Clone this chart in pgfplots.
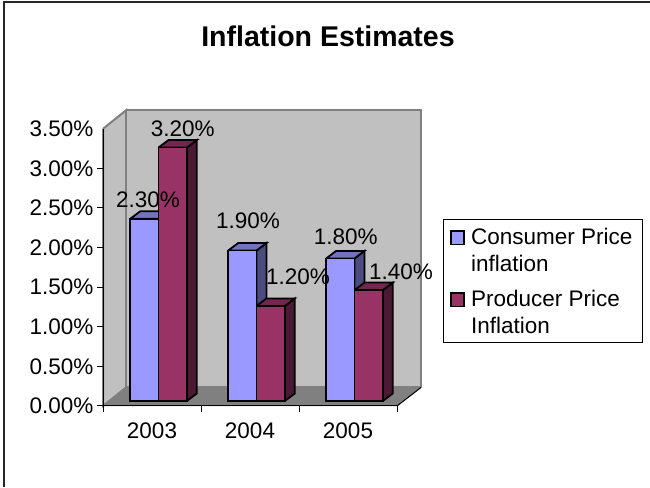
\documentclass[border=0pt]{standalone}
\usepackage{pgfplots}
\pgfplotsset{compat=1.18}
\usepackage{fontspec}
\setmainfont{Liberation Sans}
\definecolor{wall}{HTML}{C0C0C0}
\definecolor{floorc}{HTML}{808080}
\definecolor{cpi}{HTML}{9999FF}
\definecolor{cpitop}{HTML}{7373BF}
\definecolor{cpiside}{HTML}{4C4C80}
\definecolor{ppi}{HTML}{993366}
\definecolor{ppitop}{HTML}{732650}
\definecolor{ppiside}{HTML}{4C1933}
\begin{document}
\begin{tikzpicture}[x=1pt,y=1pt]
\path[use as bounding box] (0,0) rectangle (650,487);
\draw[line width=2pt,color=black!85] (4,0) -- (4,485) -- (650,485);
\node[anchor=base,font=\fontsize{28.5}{30}\selectfont\bfseries] at (328,440.5) {Inflation Estimates};
% axis 1: walls, floor and the scale
\begin{axis}[
  at={(103pt,81pt)},anchor=south west,
  scale only axis,width=294pt,height=277.2pt,
  xmin=-0.5,xmax=2.5,ymin=0,ymax=3.5,
  clip=false,
  axis x line*=bottom,axis y line*=left,
  axis line style={line width=1pt,-},
  tick align=outside,
  xtick={0,1,2},xticklabels={2003,2004,2005},
  minor xtick={-0.5,0.5,1.5,2.5},
  major x tick style={draw=none},
  minor x tick style={black,line width=1pt},
  minor tick length=6pt,
  ytick={0,0.5,1,1.5,2,2.5,3},
  extra y ticks={3.5},
  extra y tick labels={3.50\%},
  extra y tick style={major y tick style={draw=none}},
  yticklabels={0.00\%,0.50\%,1.00\%,1.50\%,2.00\%,2.50\%,3.00\%},
  y tick style={black,line width=1pt},
  major tick length=6pt,
  ticklabel style={font=\fontsize{22.5}{24}\selectfont,inner sep=0pt},
  yticklabel style={xshift=-3.5pt},
  xticklabel style={yshift=-11pt},
  axis on top,
]
\addplot[fill=wall,draw=floorc,line width=2pt,forget plot] coordinates {(-0.5,3.5) (-0.265,3.734) (-0.265,0.234) (-0.5,0) (-0.5,3.5)};
\addplot[fill=wall,draw=floorc,line width=2pt,forget plot] coordinates {(-0.265,3.734) (2.745,3.734) (2.745,0.234) (-0.265,0.234) (-0.265,3.734)};
\addplot[fill=floorc,draw=floorc,line width=0.5pt,forget plot] coordinates {(-0.5,0) (2.5,0) (2.745,0.234) (-0.265,0.234) (-0.5,0)};
\addplot[draw=black,line width=1pt,forget plot] coordinates {(2.5,0) (2.745,0.234)};
\end{axis}
% axis 2: the bars, on the plane set back from the front of the floor
\begin{axis}[
  at={(109.5pt,86pt)},anchor=south west,
  scale only axis,width=294pt,height=277.2pt,
  xmin=-0.5,xmax=2.5,ymin=0,ymax=3.5,
  clip=false,
  hide axis,
  legend image code/.code={\draw[#1,line width=1.8pt] (0pt,0pt) rectangle (13.5pt,13.5pt);\path (18.5pt,0pt);},
  legend style={at={(1.1354,0.656)},anchor=north west,draw=black,line width=0.8pt,
    inner xsep=6pt,inner ysep=0pt,row sep=6pt,
    font=\fontsize{22.5}{27}\selectfont,
    nodes={inner sep=1pt,text depth=},
    cells={anchor=base west}},
  every axis plot/.append style={line width=1.8pt,draw=black},
]
% Consumer Price inflation: side faces and tops
\addplot[fill=cpiside,forget plot] coordinates {(0,0) (0.102,0.095) (0.102,2.395) (0,2.3) (0,0)};
\addplot[fill=cpitop,forget plot] coordinates {(-0.289,2.3) (-0.187,2.395) (0.102,2.395) (0,2.3) (-0.289,2.3)};
\addplot[fill=cpiside,forget plot] coordinates {(1,0) (1.102,0.095) (1.102,1.995) (1,1.9) (1,0)};
\addplot[fill=cpitop,forget plot] coordinates {(0.711,1.9) (0.813,1.995) (1.102,1.995) (1,1.9) (0.711,1.9)};
\addplot[fill=cpiside,forget plot] coordinates {(2,0) (2.102,0.095) (2.102,1.895) (2,1.8) (2,0)};
\addplot[fill=cpitop,forget plot] coordinates {(1.711,1.8) (1.813,1.895) (2.102,1.895) (2,1.8) (1.711,1.8)};
% Consumer Price inflation: front faces
\addplot[ybar,bar width=28.3pt,bar shift=-14.15pt,fill=cpi] coordinates {(0,2.3) (1,1.9) (2,1.8)};
\addlegendentry{\begin{tabular}[t]{@{}l@{\hspace{3pt}}}\rule{0pt}{24pt}Consumer Price\\inflation\end{tabular}}
% Producer Price Inflation: side faces and tops
\addplot[fill=ppiside,forget plot] coordinates {(0.289,0) (0.391,0.095) (0.391,3.295) (0.289,3.2) (0.289,0)};
\addplot[fill=ppitop,forget plot] coordinates {(0,3.2) (0.102,3.295) (0.391,3.295) (0.289,3.2) (0,3.2)};
\addplot[fill=ppiside,forget plot] coordinates {(1.289,0) (1.391,0.095) (1.391,1.295) (1.289,1.2) (1.289,0)};
\addplot[fill=ppitop,forget plot] coordinates {(1,1.2) (1.102,1.295) (1.391,1.295) (1.289,1.2) (1,1.2)};
\addplot[fill=ppiside,forget plot] coordinates {(2.289,0) (2.391,0.095) (2.391,1.495) (2.289,1.4) (2.289,0)};
\addplot[fill=ppitop,forget plot] coordinates {(2,1.4) (2.102,1.495) (2.391,1.495) (2.289,1.4) (2,1.4)};
% Producer Price Inflation: front faces
\addplot[ybar,bar width=28.3pt,bar shift=14.15pt,fill=ppi] coordinates {(0,3.2) (1,1.2) (2,1.4)};
\addlegendentry{\begin{tabular}[t]{@{}l@{\hspace{3pt}}}Producer Price\\Inflation\end{tabular}}
% data labels
\begin{scope}[every node/.style={anchor=base,inner sep=0pt,font=\fontsize{22.5}{24}\selectfont}]
\node at (axis cs:-0.107,2.437) {2.30\%};
\node at (axis cs:0.247,3.337) {3.20\%};
\node at (axis cs:0.913,2.172) {1.90\%};
\node at (axis cs:1.423,1.465) {1.20\%};
\node at (axis cs:1.910,1.982) {1.80\%};
\node at (axis cs:2.474,1.528) {1.40\%};
\end{scope}
\end{axis}
\end{tikzpicture}
\end{document}
